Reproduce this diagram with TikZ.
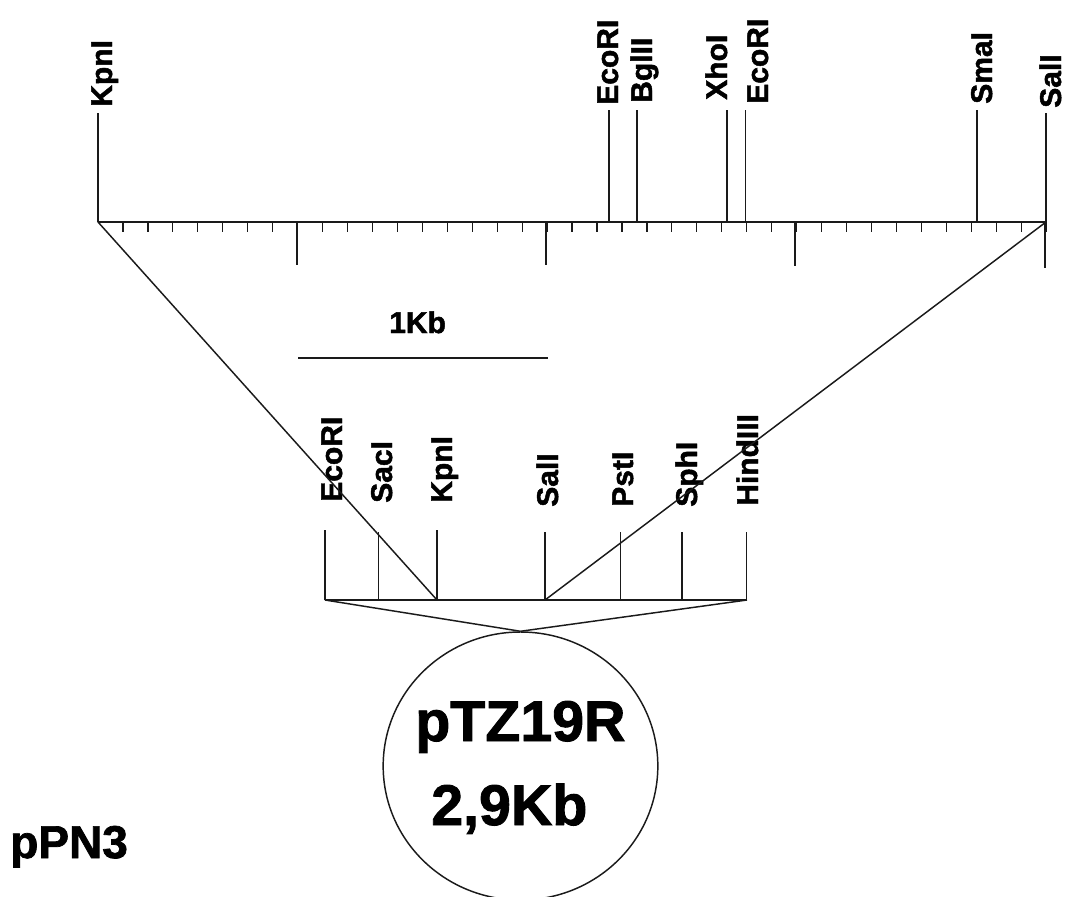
\documentclass[tikz,border=0pt]{standalone}
\usepackage{fontspec}
\setmainfont{Liberation Sans}[BoldFeatures={FakeBold=1.6}]
\usetikzlibrary{shapes.geometric}
\definecolor{inkClr}{HTML}{1A1A1A}
\newcommand{\hd}{\bfseries}

\begin{document}
\begin{tikzpicture}[
  x=0.75pt, y=-0.75pt,
  rule/.style={draw=inkClr, line width=1.1pt},
  site/.style={text=black, font=\fontsize{22.5}{24}\selectfont\hd, rotate=90,
               anchor=base west, inner sep=0pt},
  title/.style={text=black, anchor=base west, inner sep=0pt},
]
\useasboundingbox (0,0) rectangle (1065,897);

% ---------- map ends ----------
\coordinate (mapL) at (98,222);
\coordinate (mapR) at (1046,222);
\coordinate (mcsL) at (325,600);
\coordinate (mcsR) at (747,600);
\coordinate (mcsK) at (437,600);
\coordinate (mcsS) at (545,600);

% ---------- insert ruler ----------
\draw[rule] (mapL) -- (mapR);
\foreach \i in {1,...,38} {
  \draw[rule, line width=0.9pt] (98+\i*24.95,222) -- (98+\i*24.95,232);
}
\foreach \x/\y in {297/265, 546/265, 795/266, 1045/268} {
  \draw[rule] (\x,222) -- (\x,\y);
}

% ---------- upper sites ----------
\node[site] (kpnA) at (112,107) {KpnI};
\node[site] (ecoA) at (618,105) {EcoRI};
\node[site] (bgl) at (652,103) {BglII};
\node[site] (xho) at (727,100) {XhoI};
\node[site] (ecoB) at (768,104) {EcoRI};
\node[site] (sma) at (992,104) {SmaI};
\node[site] (salA) at (1061,108) {SalI};

\foreach \x/\y in {98/113, 609/110, 637/110, 727/110, 745.5/110, 977/110, 1046/113} {
  \draw[rule] (\x,\y) -- (\x,222);
}

% ---------- scale bar ----------
\coordinate (barL) at (298,358);
\coordinate (barR) at (548,358);
\node[title, font=\fontsize{22.5}{24}\selectfont\hd] (kb) at (389,333) {1Kb};
\draw[rule] (barL) -- (barR);

% ---------- polylinker ----------
\node[site] (ecoC) at (342,502) {EcoRI};
\node[site] (sac) at (392,503) {SacI};
\node[site] (kpnB) at (452,503) {KpnI};
\node[site] (salB) at (558,507) {SalI};
\node[site] (pst) at (633,507) {PstI};
\node[site] (sph) at (697,507) {SphI};
\node[site] (hind) at (758,506) {HindIII};

\foreach \x/\y in {325/530, 378.5/532, 437/530, 545/532, 620.5/532, 682/532, 746.5/532} {
  \draw[rule] (\x,\y) -- (\x,600);
}
\draw[rule] (mcsL) -- (mcsR);

% ---------- insert lines ----------
\draw[rule] (mapL) -- (mcsK);
\draw[rule] (mapR) -- (mcsS);

% ---------- vector ----------
\node[ellipse, draw=inkClr, line width=1.1pt, minimum width=206pt, minimum height=201pt,
      inner sep=0pt] (vec) at (520.5,766) {};
\draw[rule] (mcsL) -- (vec.north);
\draw[rule] (mcsR) -- (vec.north);
\node[title, font=\fontsize{43}{46}\selectfont\hd] (vecA) at (415,741) {pTZ19R};
\node[title, font=\fontsize{43}{46}\selectfont\hd] (vecB) at (431,825) {2,9Kb};
\node[title, font=\fontsize{34.5}{37}\selectfont\hd] (plasmid) at (10,858) {pPN3};

\end{tikzpicture}
\end{document}
